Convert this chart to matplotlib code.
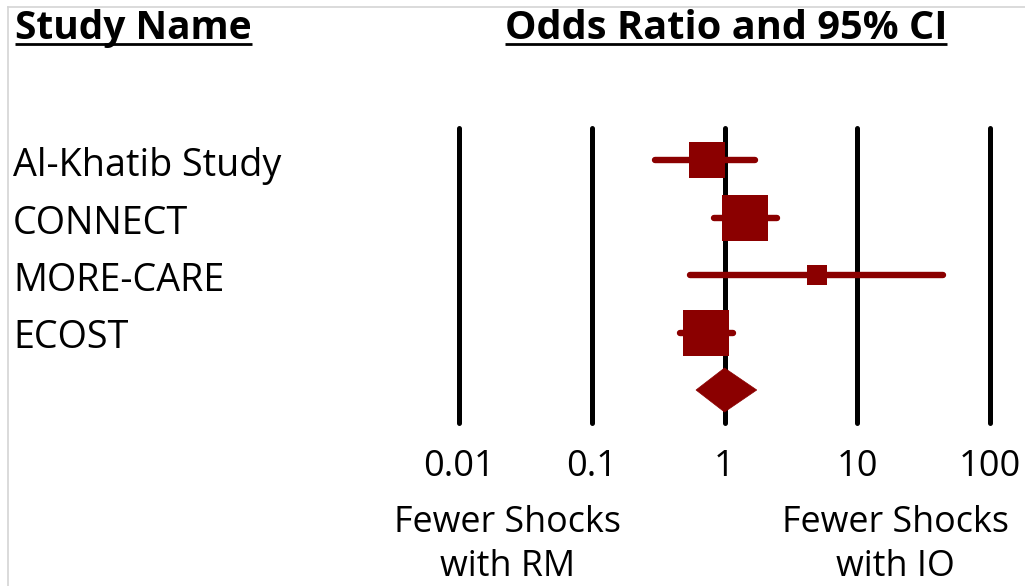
import numpy as np
import matplotlib
matplotlib.use("Agg")
import matplotlib.pyplot as plt
from matplotlib.transforms import blended_transform_factory
from matplotlib.lines import Line2D
from matplotlib.patches import Polygon

# ---- data ----
studies = ["Al-Khatib Study", "CONNECT", "MORE-CARE", "ECOST"]
odds_ratio = [0.74, 1.43, 5.0, 0.73]
ci_low = [0.30, 0.83, 0.55, 0.46]
ci_high = [1.71, 2.47, 44.0, 1.16]
weight_pct = [22.9, 33.9, 6.7, 36.5]
pooled_or = 1.0
pooled_low = 0.61
pooled_high = 1.75
ref_ticks = [0.01, 0.1, 1, 10, 100]
tick_labels = ["0.01", "0.1", "1", "10", "100"]
header_left = "Study Name"
header_right = "Odds Ratio and 95% CI"
favours_left = ["Fewer Shocks", "with RM"]
favours_right = ["Fewer Shocks", "with IO"]

# ---- canvas ----
W, H, DPI = 1025, 586, 100
RED = "#8b0000"
FONT = "Open Sans"

fig = plt.figure(figsize=(W / DPI, H / DPI), dpi=DPI)
fig.patch.set_facecolor("white")


def fx(px):
    return px / W


def fy(py):
    return 1 - py / H


# thin frame along the top and left edge
fig.add_artist(Line2D([fx(8), fx(8)], [fy(7), 0], transform=fig.transFigure,
                      color="#d4d4d4", lw=1.2))
fig.add_artist(Line2D([fx(8), 1], [fy(7), fy(7)], transform=fig.transFigure,
                      color="#d4d4d4", lw=1.2))

# plotting area: reference lines span the full height
ax = fig.add_axes([fx(459), fy(423), fx(990) - fx(459), fy(128) - fy(423)])
ax.set_xscale("log")
ax.set_xlim(0.01, 100)
row_px0, row_step = 160.0, 57.5
top_px, bot_px = 128.0, 423.0
ax.set_ylim((bot_px - row_px0) / row_step, (top_px - row_px0) / row_step)
ax.axis("off")

for t in ref_ticks:
    ax.plot([t, t], [0, 1], transform=ax.get_xaxis_transform(), color="black",
            lw=3.6, solid_capstyle="round", clip_on=False, zorder=1)

n = len(studies)
side_scale = 7.73  # pixels per sqrt(weight %)
for i in range(n):
    ax.plot([ci_low[i], ci_high[i]], [i, i], color=RED, lw=4.6,
            solid_capstyle="round", clip_on=False, zorder=2)
    side_px = side_scale * np.sqrt(weight_pct[i])
    ax.plot([odds_ratio[i]], [i], marker="s", linestyle="none",
            markersize=side_px * 72 / DPI, color=RED, mec=RED, mew=0,
            clip_on=False, zorder=3)

half_h = 22.0 / row_step
diamond = Polygon([[pooled_low, n], [pooled_or, n - half_h],
                   [pooled_high, n], [pooled_or, n + half_h]],
                  closed=True, facecolor=RED, edgecolor=RED, lw=0.5,
                  zorder=3, clip_on=False)
ax.add_patch(diamond)

# ---- text ----
fig_y = blended_transform_factory(fig.transFigure, ax.transData)
for i, name in enumerate(studies):
    ax.text(fx(13), i + 16.0 / row_step, name, transform=fig_y,
            ha="left", va="baseline", fontsize=27.2, family=FONT,
            color="black")

tick_tr = blended_transform_factory(ax.transData, fig.transFigure)
for t, lab in zip(ref_ticks, tick_labels):
    ax.text(t, fy(476), lab, transform=tick_tr, ha="center", va="baseline",
            fontsize=26, family=FONT, color="black")

for cx, lines in ((508, favours_left), (895.5, favours_right)):
    for line, base in zip(lines, (532, 576.5)):
        fig.text(fx(cx), fy(base), line, ha="center", va="baseline",
                 fontsize=25.8, family=FONT, color="black")

headers = [
    fig.text(fx(15), fy(39.3), header_left, ha="left", va="baseline",
             fontsize=28, family=FONT, weight="bold", color="black"),
    fig.text(fx(726), fy(39.3), header_right, ha="center", va="baseline",
             fontsize=28.6, family=FONT, weight="bold", color="black"),
]

fig.canvas.draw()
renderer = fig.canvas.get_renderer()
for h in headers:
    bb = h.get_window_extent(renderer)
    fig.add_artist(Line2D([bb.x0 / W, bb.x1 / W], [fy(43.5), fy(43.5)],
                          transform=fig.transFigure, color="black", lw=2.0,
                          solid_capstyle="butt"))

fig.savefig("out.png", dpi=DPI, facecolor="white")
